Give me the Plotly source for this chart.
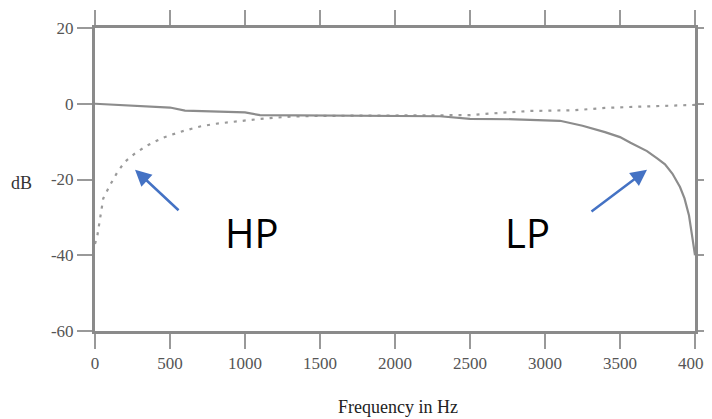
import plotly.graph_objects as go

# Frequency response data
lp_freq = [0, 100, 200, 400, 500, 600, 800, 1000, 1100, 1500, 2000, 2300, 2500, 2800, 3100,
           3250, 3400, 3500, 3570, 3680, 3750, 3800, 3850, 3900, 3930, 3960, 3985, 4000]
lp_db = [0, -0.2, -0.5, -0.8, -1.0, -1.8, -2.1, -2.3, -3.0, -3.1, -3.1, -3.3, -4.0, -4.1, -4.5,
         -5.8, -7.5, -8.8, -10.3, -12.5, -14.5, -16.0, -18.5, -22.0, -25.0, -29.5, -36.0, -40.0]

hp_freq = [0, 15, 35, 55, 100, 150, 200, 270, 350, 450, 570, 700, 800, 1000, 1100, 1300,
           1500, 2000, 2500, 2700, 2900, 3200, 3400, 3600, 3800, 4000]
hp_db = [-37.0, -35.0, -30.0, -25.0, -21.5, -18.0, -15.3, -13.0, -11.0, -9.0, -7.4, -6.0,
         -5.3, -4.5, -4.0, -3.4, -3.2, -3.1, -3.0, -2.4, -1.9, -1.7, -1.1, -0.8, -0.5, -0.3]

x_ticks = [0, 500, 1000, 1500, 2000, 2500, 3000, 3500, 4000]
x_tick_labels = ["0", "500", "1000", "1500", "2000", "2500", "3000", "3500", "4000"]
y_ticks = [20, 0, -20, -40, -60]
y_tick_labels = ["20", "0", "-20", "-40", "-60"]

fig = go.Figure()
fig.add_trace(go.Scatter(x=hp_freq, y=hp_db, mode="lines",
                         line=dict(color="#9a9a9a", width=2.2, dash="3px,6px"),
                         showlegend=False))
fig.add_trace(go.Scatter(x=lp_freq, y=lp_db, mode="lines",
                         line=dict(color="#8c8c8c", width=2.2),
                         showlegend=False))

tick_font = dict(family="Liberation Serif", size=17, color="#555555")
fig.update_xaxes(range=[0, 4000], tickvals=x_ticks, ticktext=x_tick_labels,
                 showgrid=False, zeroline=False, automargin=False,
                 ticklabeloverflow="allow",
                 showline=True, linecolor="#8a8a8a", linewidth=3, mirror="ticks",
                 ticks="outside", ticklen=15, tickwidth=2, tickcolor="#999999",
                 tickfont=tick_font)
fig.update_yaxes(range=[-60, 20], tickvals=y_ticks, ticktext=y_tick_labels,
                 showgrid=False, zeroline=False, automargin=False,
                 ticklabeloverflow="allow",
                 showline=True, linecolor="#8a8a8a", linewidth=3, mirror="ticks",
                 ticks="outside", ticklen=15, tickwidth=2, tickcolor="#999999",
                 tickfont=tick_font)

arrow_color = "#4472C4"
label_font = dict(family="Open Sans", size=40, color="#000000")
# page body has an 8px default margin, so the figure is sized 8px smaller
fig.update_layout(
    width=704, height=411,
    margin=dict(l=87, r=17, t=20, b=88),
    plot_bgcolor="white", paper_bgcolor="white",
    annotations=[
        dict(x=267, y=-17.4, xref="x", yref="y", ax=45, ay=42, text="",
             showarrow=True, arrowhead=2, arrowsize=1.3, arrowwidth=2.5, arrowcolor=arrow_color),
        dict(x=3680, y=-17.4, xref="x", yref="y", ax=-57, ay=43, text="",
             showarrow=True, arrowhead=2, arrowsize=1.3, arrowwidth=2.5, arrowcolor=arrow_color),
        dict(x=1047, y=-34, xref="x", yref="y", text="HP", showarrow=False, font=label_font),
        dict(x=2880, y=-34, xref="x", yref="y", text="LP", showarrow=False, font=label_font),
        dict(x=0.505, y=-0.251, xref="paper", yref="paper", xanchor="center", yanchor="middle",
             text="Frequency in Hz", showarrow=False,
             font=dict(family="Liberation Serif", size=18, color="#222222")),
        dict(x=-0.122, y=0.488, xref="paper", yref="paper", xanchor="center", yanchor="middle",
             text="dB", showarrow=False,
             font=dict(family="Liberation Serif", size=18, color="#333333")),
    ],
)

fig.write_html("out.html")
